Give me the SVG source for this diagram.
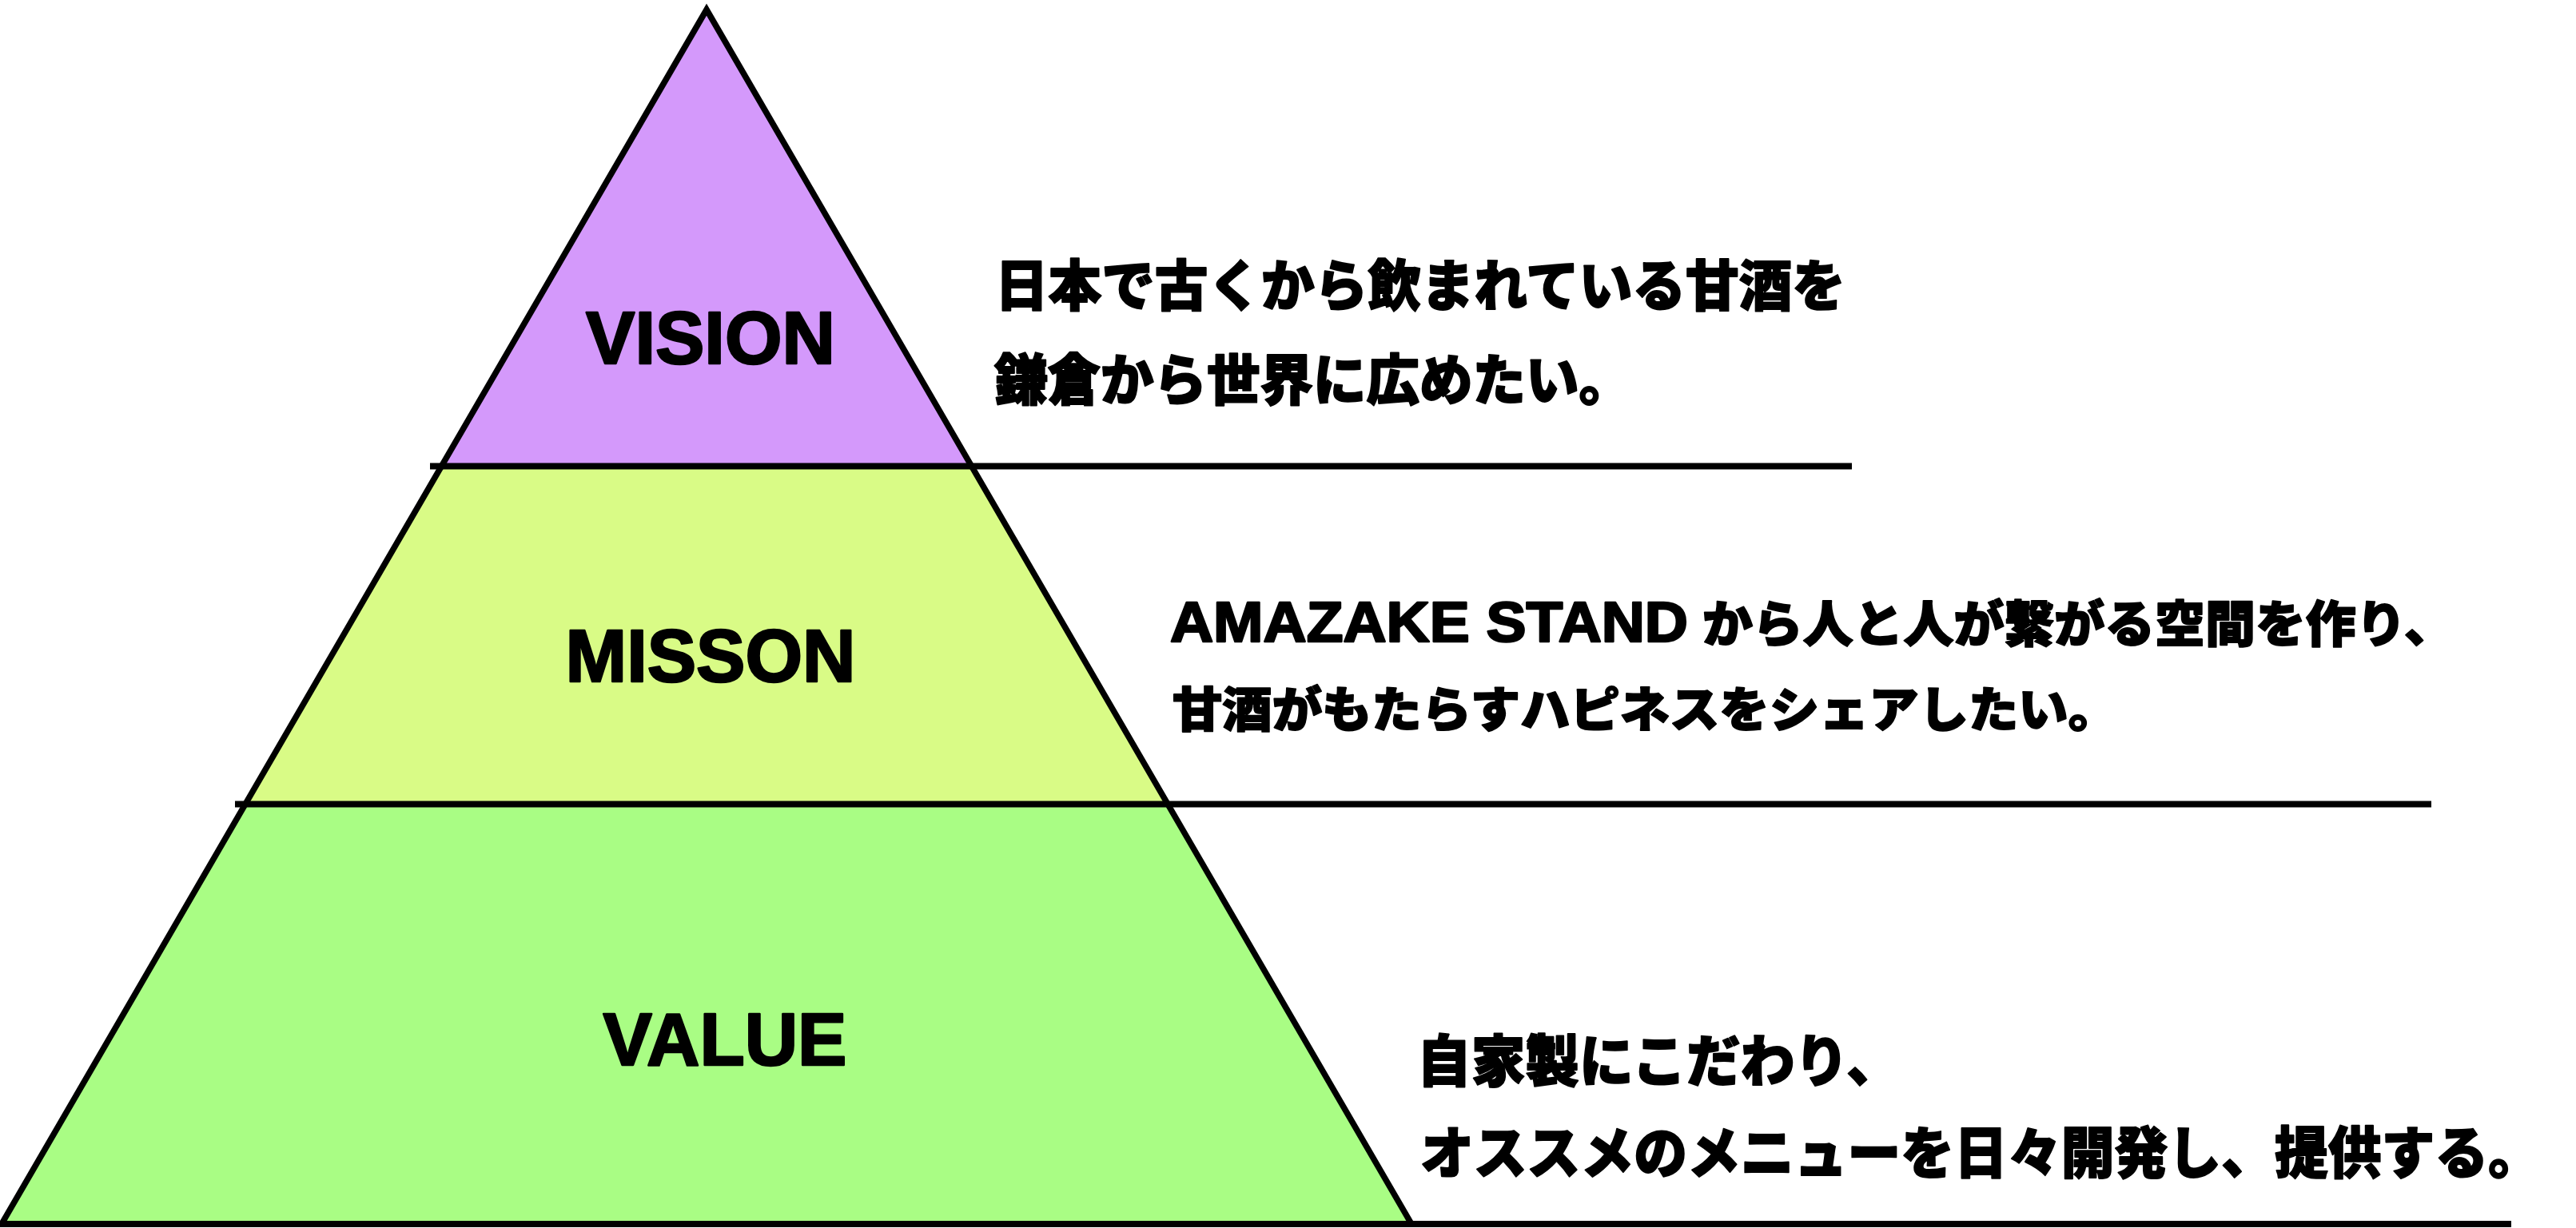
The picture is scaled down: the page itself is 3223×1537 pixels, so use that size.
<svg xmlns="http://www.w3.org/2000/svg" width="3223" height="1537" viewBox="0 0 3223 1537">
  <style>
    .label { font-family: "Liberation Sans", Arial, sans-serif; font-weight: 700; font-size: 92px; fill: #000; stroke: #000; stroke-width: 2.5; stroke-linejoin: round; text-anchor: middle; }
    .jp { font-family: "Noto Sans CJK JP", "Noto Sans CJK SC", sans-serif; font-weight: 900; fill: #000; stroke: #000; stroke-width: 1.8; stroke-linejoin: round; }
    .lat { font-family: "Liberation Sans", Arial, sans-serif; font-weight: 700; fill: #000; stroke: #000; stroke-width: 2.5; stroke-linejoin: round; }
    .edge { fill: none; stroke: #000; stroke-width: 7.5; stroke-linejoin: miter; }
    .rule { stroke: #000; stroke-width: 8; }
  </style>
  <rect width="3223" height="1537" fill="#ffffff"/>

  <g id="tier-vision">
    <polygon points="884,12 1216,583 552,583" fill="#D499FB"/>
    <text class="label" x="889" y="455">VISION</text>
  </g>
  <g id="tier-mission">
    <polygon points="552,583 1216,583 1462,1006 306,1006" fill="#D9FB86"/>
    <text class="label" x="889" y="853">MISSON</text>
  </g>
  <g id="tier-value">
    <polygon points="306,1006 1462,1006 1766,1532 2,1532" fill="#A9FD84"/>
    <text class="label" x="907" y="1333">VALUE</text>
  </g>

  <g id="outline">
    <polygon class="edge" points="884,12 1766,1532 2,1532"/>
  </g>

  <g id="dividers">
    <line class="rule" x1="538" y1="583.5" x2="2317" y2="583.5"/>
    <line class="rule" x1="294" y1="1006.5" x2="3042" y2="1006.5"/>
    <line class="rule" x1="0" y1="1532" x2="3142" y2="1532"/>
  </g>

  <g id="text-vision">
    <text class="jp" font-size="69" x="1245" y="383" textLength="1064" lengthAdjust="spacingAndGlyphs">日本で古くから飲まれている甘酒を</text>
    <text class="jp" font-size="69" x="1244" y="501" textLength="798" lengthAdjust="spacingAndGlyphs">鎌倉から世界に広めたい。</text>
  </g>

  <g id="text-mission">
    <text class="lat" font-size="71" x="1464" y="803" textLength="648" lengthAdjust="spacingAndGlyphs">AMAZAKE STAND</text>
    <text class="jp" font-size="62" x="2130" y="804" textLength="941" lengthAdjust="spacingAndGlyphs">から人と人が繋がる空間を作り、</text>
    <text class="jp" font-size="60" x="1467" y="910" textLength="1183" lengthAdjust="spacingAndGlyphs">甘酒がもたらすハピネスをシェアしたい。</text>
  </g>

  <g id="text-value">
    <text class="jp" font-size="70" x="1773" y="1354" textLength="605" lengthAdjust="spacingAndGlyphs">自家製にこだわり、</text>
    <text class="jp" font-size="70" x="1777" y="1469" textLength="1403" lengthAdjust="spacingAndGlyphs">オススメのメニューを日々開発し、提供する。</text>
  </g>
</svg>
